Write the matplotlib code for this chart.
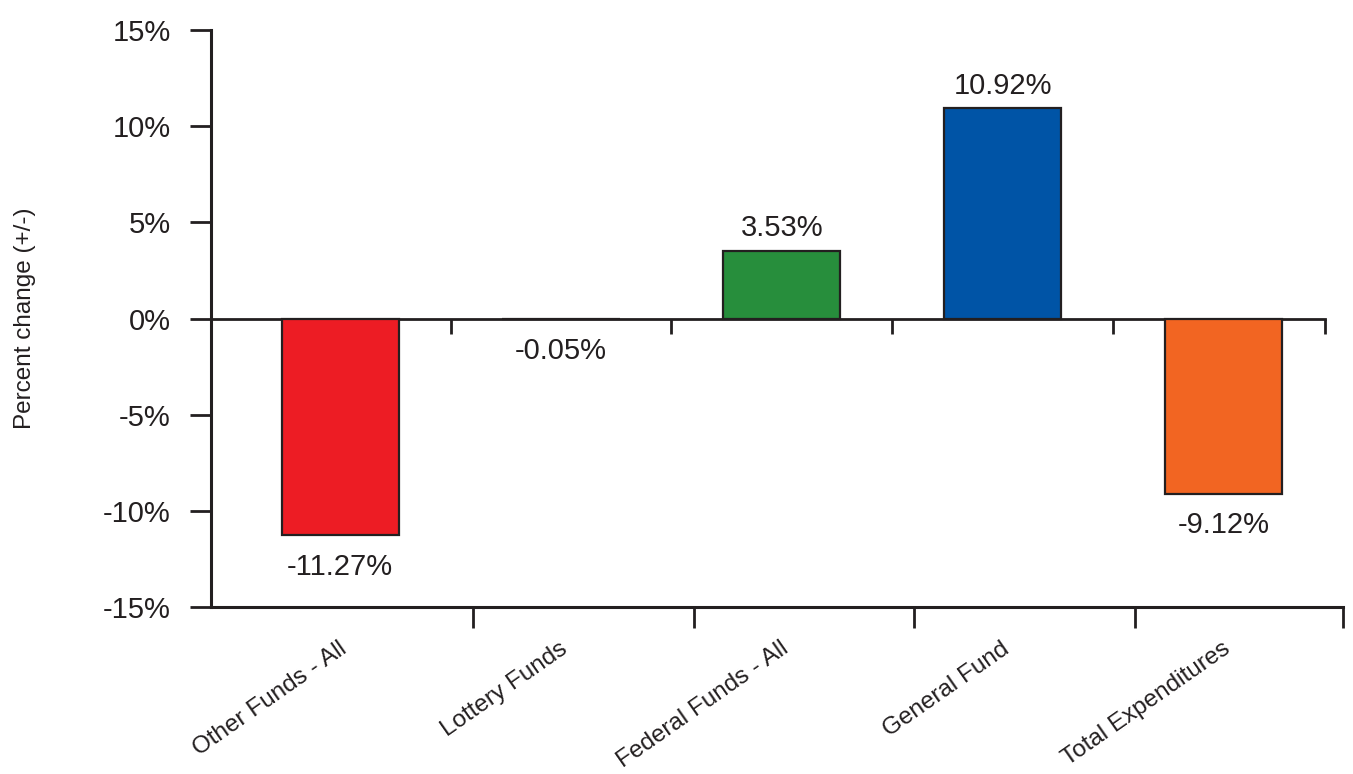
import numpy as np
import matplotlib
matplotlib.use("Agg")
import matplotlib.pyplot as plt
from matplotlib import font_manager

categories = ["Other Funds - All", "Lottery Funds", "Federal Funds - All",
              "General Fund", "Total Expenditures"]
values = [-11.27, -0.05, 3.53, 10.92, -9.12]
value_labels = ["-11.27%", "-0.05%", "3.53%", "10.92%", "-9.12%"]
bar_colors = ["#ED1C24", "#F7941D", "#278E3C", "#0054A6", "#F26522"]
y_ticks = [-15, -10, -5, 0, 5, 10, 15]
y_tick_labels = ["-15%", "-10%", "-5%", "0%", "5%", "10%", "15%"]

names = {f.name for f in font_manager.fontManager.ttflist}
family = "Liberation Sans Narrow" if "Liberation Sans Narrow" in names else "Liberation Sans"
plt.rcParams['font.family'] = [family, 'DejaVu Sans']

ink = "#231F20"

fig = plt.figure(figsize=(13.53, 7.74), dpi=100)
ax = fig.add_axes([0.156, 0.2158, 0.8366, 0.7454])

x = np.arange(len(categories))
x_min = -0.584
x_max = len(categories) - 0.46

ax.bar(x, values, width=0.53, color=bar_colors, edgecolor=ink, linewidth=1.6, zorder=3)

# zero line with tick marks between categories
zero_end = len(categories) - 0.54
ax.plot([x_min, zero_end], [0, 0], color=ink, linewidth=2.0, zorder=2)
zero_ticks = list(np.arange(len(categories) - 1) + 0.5) + [zero_end]
ax.vlines(zero_ticks, -0.8, 0, color=ink, linewidth=2.0, zorder=2)

for xi, v, lab in zip(x, values, value_labels):
    if v >= 0:
        ax.text(xi, v + 0.45, lab, ha='center', va='bottom', fontsize=21, color=ink)
    else:
        ax.text(xi, v - 0.9, lab, ha='center', va='top', fontsize=21, color=ink)

ax.set_xlim(x_min, x_max)
ax.set_ylim(-15, 15)
ax.set_yticks(y_ticks)
ax.set_yticklabels(y_tick_labels, fontsize=21, color=ink)
ax.tick_params(axis='y', length=15, width=2.0, pad=14, color=ink)

ax.set_xticks(x + 0.05)
ax.set_xticklabels(categories, rotation=35, ha='right', va='top', fontsize=17.5, color=ink)
ax.tick_params(axis='x', which='major', length=0, pad=22)
bottom_ticks = list(np.arange(len(categories) - 1) + 0.6) + [x_max]
ax.set_xticks(bottom_ticks, minor=True)
ax.tick_params(axis='x', which='minor', length=15, width=2.0, color=ink)

for side in ['top', 'right']:
    ax.spines[side].set_visible(False)
for side in ['left', 'bottom']:
    ax.spines[side].set_linewidth(2.2)
    ax.spines[side].set_color(ink)

ax.set_ylabel("Percent change (+/-)", fontsize=17.5, color=ink, labelpad=48)

fig.savefig("out.png", dpi=100)
